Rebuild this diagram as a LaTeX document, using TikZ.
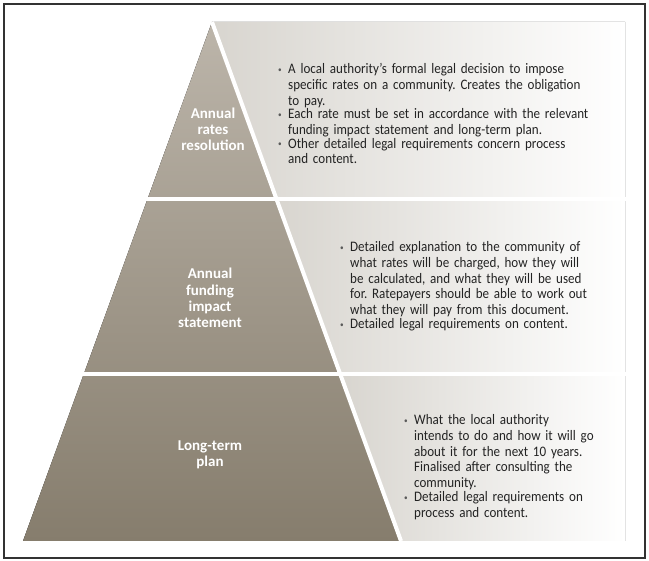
\documentclass[tikz,border=0pt]{standalone}
\usepackage{fontspec}
\setmainfont{Carlito}[FakeStretch=0.9]
\newfontfamily\labelfont{Carlito}
\usepackage{tikz}
\usetikzlibrary{positioning, calc}
\definecolor{frameline}{RGB}{50,50,50}
\definecolor{pyrtop}{RGB}{188,181,170}
\definecolor{pyrbottom}{RGB}{134,125,109}
\definecolor{panelgrey}{RGB}{216,213,207}
\definecolor{bodytext}{RGB}{35,35,35}
\definecolor{bulgrey}{RGB}{90,90,90}
\frenchspacing
\newcommand{\bulitem}[1]{\noindent\makebox[10pt][l]{\textcolor{bulgrey}{\raisebox{1.2pt}{\fontsize{8}{8}\selectfont\textbullet}}}%
  \parbox[t]{330pt}{\raggedright #1}\par}

\begin{document}
\begin{tikzpicture}[x=1pt, y=-1pt,
  tierlabel/.style={align=center, text=white, inner sep=0pt,
    font=\labelfont\fontsize{15}{16.2}\selectfont\bfseries},
  bultext/.style={anchor=north west, text width=345pt, inner sep=0pt,
    text=bodytext, font=\fontsize{14.5}{15.9}\selectfont},
  panelfill/.style={left color=panelgrey, right color=white},
  gap/.style={white, line width=4pt}]
  \useasboundingbox (0,0) rectangle (649,561);
  \draw[frameline, line width=1.4pt] (4,4) rectangle (645,558);

  % pyramid corners
  \coordinate (apex) at (212,22);
  \coordinate (bl) at (23,541);
  \coordinate (br) at (401,541);
  \coordinate (cut1) at ($(apex)!0.341!(br)$);
  \coordinate (cut2) at ($(apex)!0.678!(br)$);

  % panels behind the text
  \fill[panelfill] (apex) -- (625,22) -- (625,199) -- (cut1) -- cycle;
  \fill[panelfill] (cut1) -- (625,199) -- (625,374) -- (cut2) -- cycle;
  \fill[panelfill] (cut2) -- (625,374) -- (625,541) -- (br) -- cycle;

  \fill[top color=pyrtop, bottom color=pyrbottom] (apex) -- (br) -- (bl) -- cycle;

  % white separators
  \draw[gap] (apex) -- (br);
  \draw[gap] (10,199) -- (640,199);
  \draw[gap] (10,374) -- (640,374);

  % tier labels
  \node[tierlabel] (rates) at (213,129) {Annual\\rates\\resolution};
  \node[tierlabel] (funding) at (210,298) {Annual\\funding\\impact\\statement};
  \node[tierlabel] (plan) at (210,455) {Long-term\\plan};

  % bullet text
  \node[bultext] (ratestext) at (278,63) {%
    \bulitem{A local authority’s formal legal decision to impose\\
    specific rates on a community. Creates the obligation\\
    to pay.}
    \bulitem{Each rate must be set in accordance with the relevant\\
    funding impact statement and long-term plan.}
    \bulitem{Other detailed legal requirements concern process\\
    and content.}};
  \node[bultext] (fundingtext) at (340,241) {%
    \bulitem{Detailed explanation to the community of\\
    what rates will be charged, how they will\\
    be calculated, and what they will be used\\
    for. Ratepayers should be able to work out\\
    what they will pay from this document.}
    \bulitem{Detailed legal requirements on content.}};
  \node[bultext] (plantext) at (404,414) {%
    \bulitem{What the local authority\\
    intends to do and how it will go\\
    about it for the next 10 years.\\
    Finalised after consulting the\\
    community.}
    \bulitem{Detailed legal requirements on\\
    process and content.}};
\end{tikzpicture}
\end{document}
